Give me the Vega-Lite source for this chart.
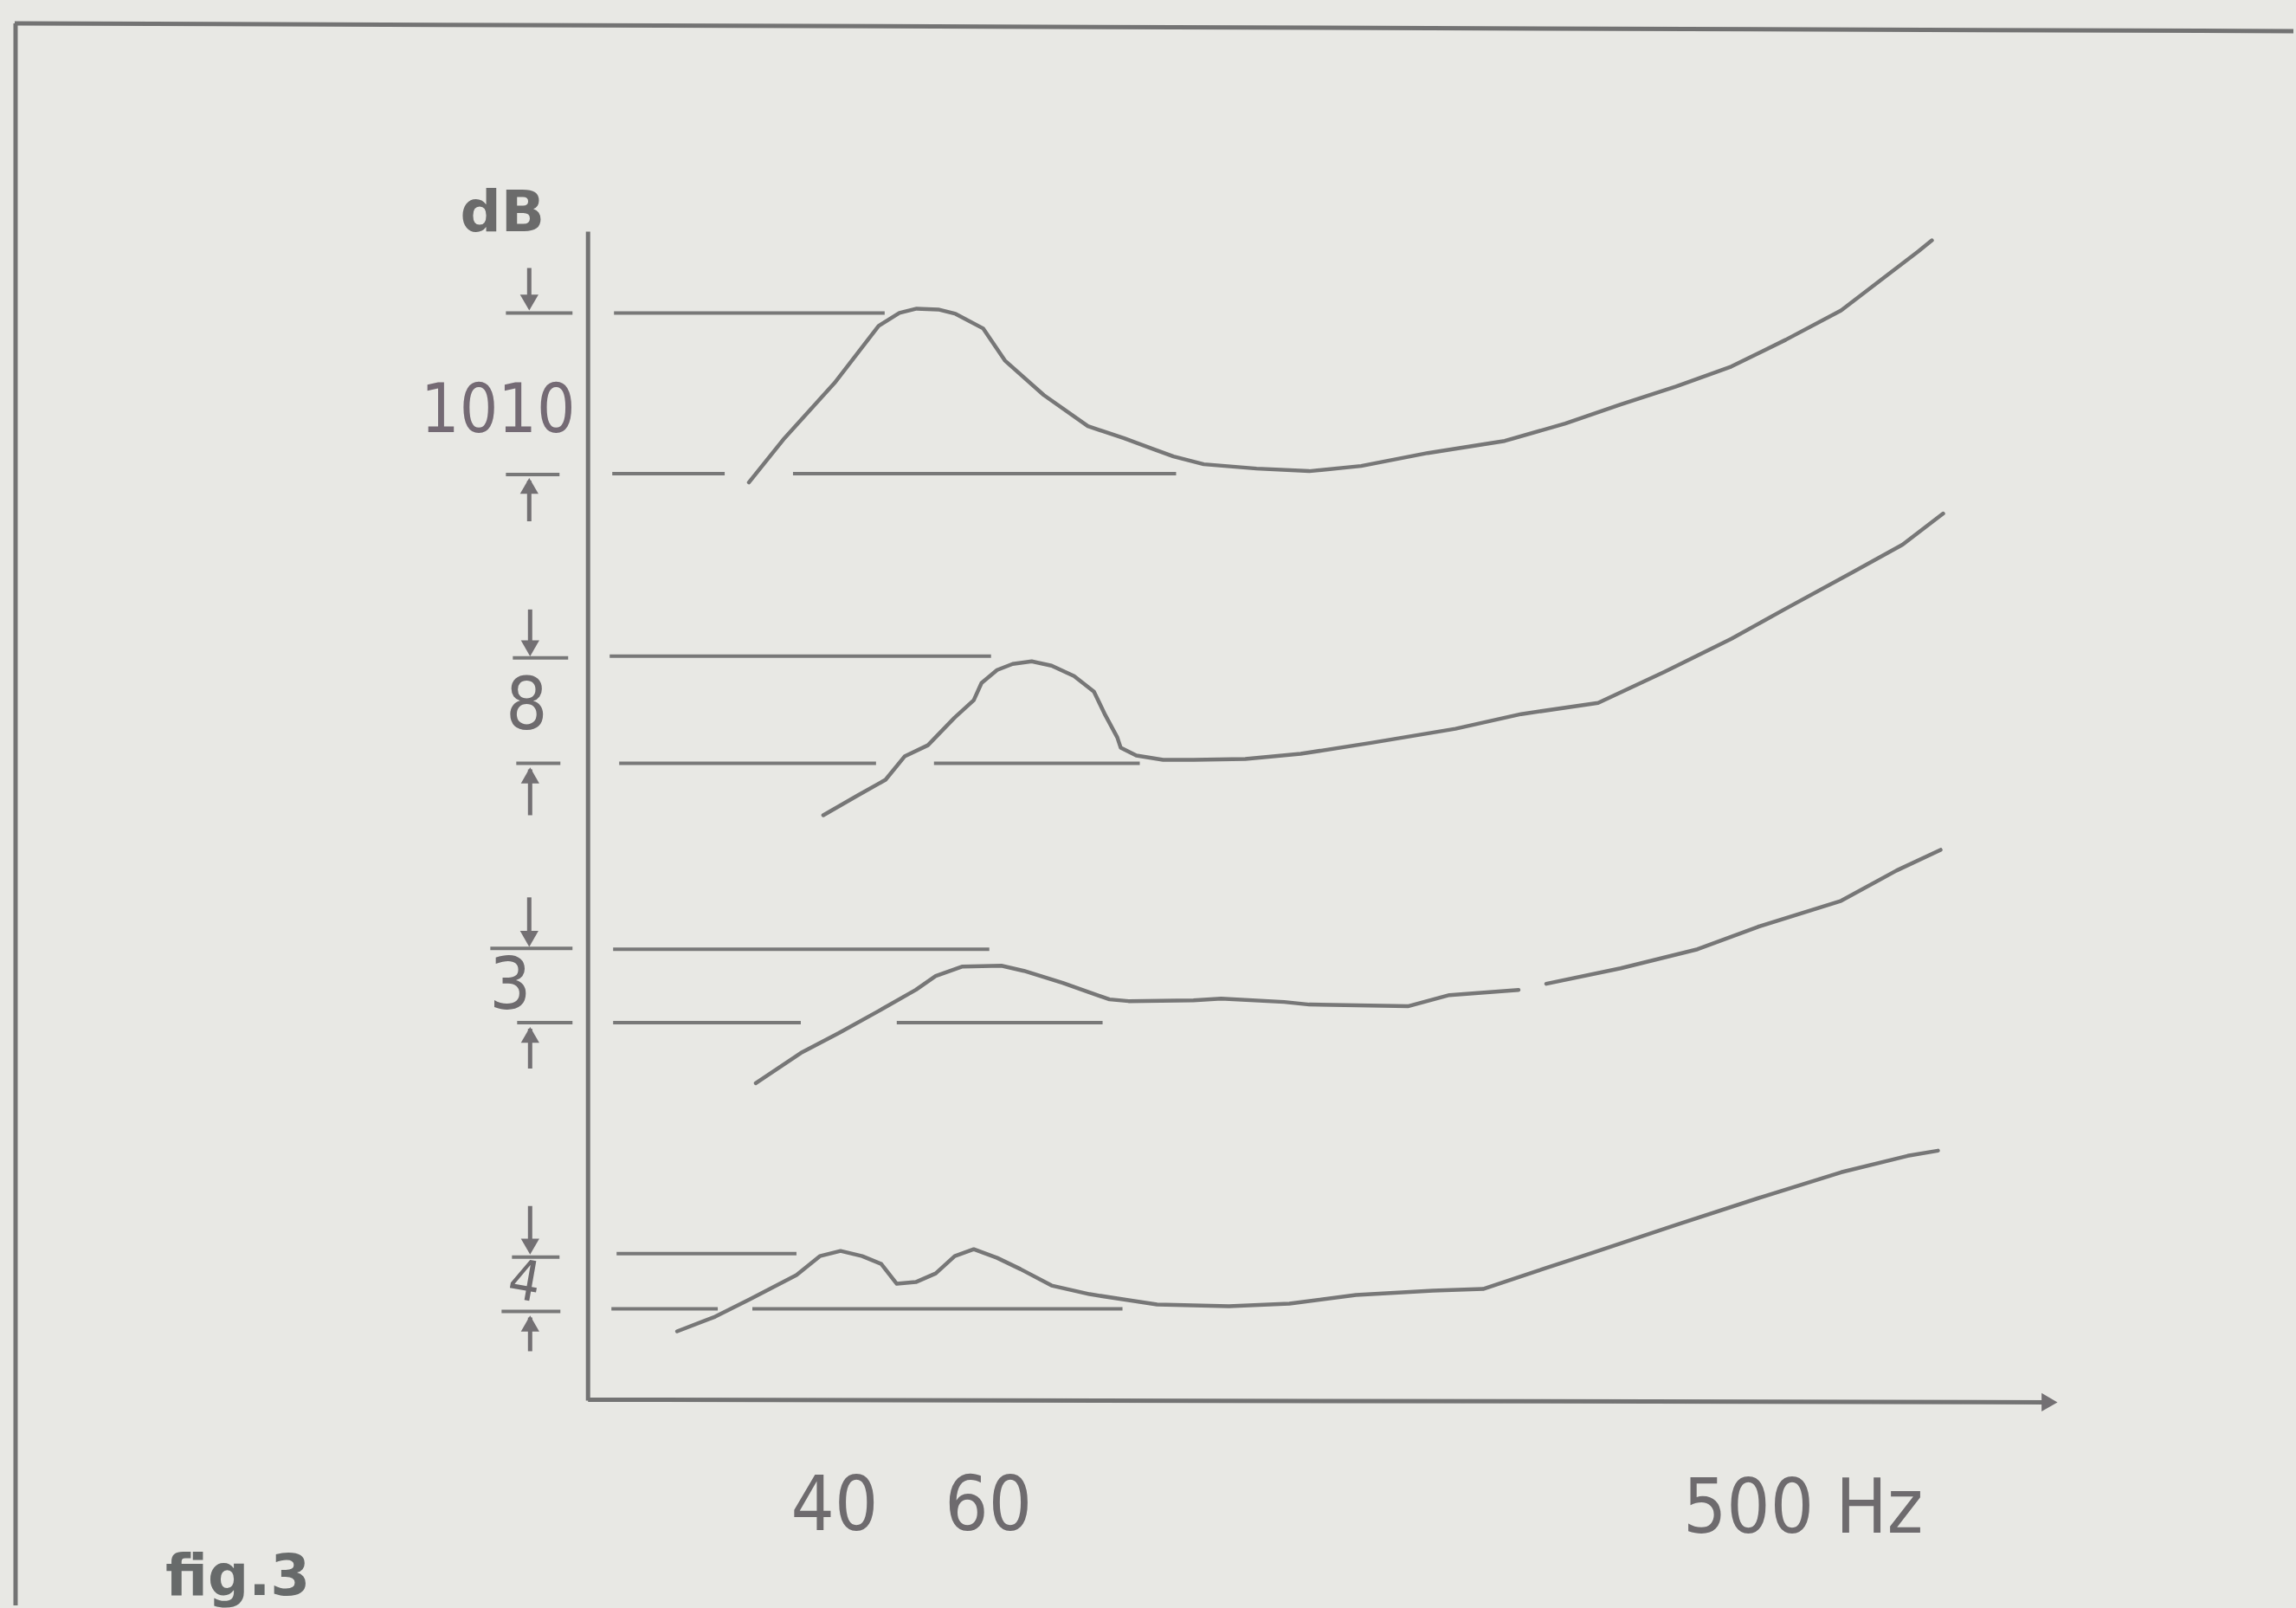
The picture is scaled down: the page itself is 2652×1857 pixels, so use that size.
{
  "$schema": "https://vega.github.io/schema/vega-lite/v6.json",
  "width": 2652,
  "height": 1857,
  "autosize": {"type": "fit", "contains": "padding"},
  "padding": 0,
  "background": "#e8e8e4",
  "config": {"view": {"stroke": null}},
  "datasets": {
    "frame": [
      {"x": 18, "y": 27, "x2": 18, "y2": 1857},
      {"x": 17, "y": 27, "x2": 2652, "y2": 36},
      {"x": 680, "y": 268, "x2": 680, "y2": 1620},
      {"x": 680, "y": 1619, "x2": 2368, "y2": 1622}
    ],
    "refs": [
      {"x": 710, "x2": 1023, "y": 362},
      {"x": 708, "x2": 838, "y": 548},
      {"x": 917, "x2": 1360, "y": 548},
      {"x": 705, "x2": 1146, "y": 759},
      {"x": 716, "x2": 1013, "y": 883},
      {"x": 1080, "x2": 1318, "y": 883},
      {"x": 709, "x2": 1144, "y": 1098},
      {"x": 709, "x2": 926, "y": 1183},
      {"x": 1037, "x2": 1275, "y": 1183},
      {"x": 713, "x2": 921, "y": 1450},
      {"x": 707, "x2": 830, "y": 1514},
      {"x": 870, "x2": 1298, "y": 1514},
      {"x": 585, "x2": 662, "y": 362},
      {"x": 585, "x2": 647, "y": 549},
      {"x": 593, "x2": 657, "y": 761},
      {"x": 597, "x2": 648, "y": 883},
      {"x": 567, "x2": 662, "y": 1097},
      {"x": 598, "x2": 662, "y": 1183},
      {"x": 592, "x2": 647, "y": 1454},
      {"x": 580, "x2": 648, "y": 1517}
    ],
    "shafts": [
      {"x": 612, "y": 310, "y2": 352},
      {"x": 612, "y": 556, "y2": 603},
      {"x": 613, "y": 705, "y2": 752},
      {"x": 613, "y": 890, "y2": 943},
      {"x": 612, "y": 1038, "y2": 1088},
      {"x": 613, "y": 1190, "y2": 1236},
      {"x": 613, "y": 1395, "y2": 1444},
      {"x": 613, "y": 1524, "y2": 1563}
    ],
    "heads": [
      {"dir": "down", "x": 612, "y": 350},
      {"dir": "up", "x": 612, "y": 562},
      {"dir": "down", "x": 613, "y": 750},
      {"dir": "up", "x": 613, "y": 897},
      {"dir": "down", "x": 612, "y": 1086},
      {"dir": "up", "x": 613, "y": 1197},
      {"dir": "down", "x": 613, "y": 1442},
      {"dir": "up", "x": 613, "y": 1531},
      {"dir": "right", "x": 2370, "y": 1622}
    ],
    "curves": [
      {"s": "c1", "x": 866, "y": 558}, {"s": "c1", "x": 907, "y": 507}, {"s": "c1", "x": 965, "y": 443},
      {"s": "c1", "x": 1016, "y": 377}, {"s": "c1", "x": 1040, "y": 362}, {"s": "c1", "x": 1060, "y": 357},
      {"s": "c1", "x": 1085, "y": 358}, {"s": "c1", "x": 1105, "y": 363}, {"s": "c1", "x": 1137, "y": 380},
      {"s": "c1", "x": 1162, "y": 417}, {"s": "c1", "x": 1207, "y": 457}, {"s": "c1", "x": 1258, "y": 493},
      {"s": "c1", "x": 1300, "y": 507}, {"s": "c1", "x": 1335, "y": 520}, {"s": "c1", "x": 1357, "y": 528},
      {"s": "c1", "x": 1392, "y": 537}, {"s": "c1", "x": 1453, "y": 542}, {"s": "c1", "x": 1514, "y": 545},
      {"s": "c1", "x": 1574, "y": 539}, {"s": "c1", "x": 1651, "y": 524}, {"s": "c1", "x": 1740, "y": 510},
      {"s": "c1", "x": 1810, "y": 490}, {"s": "c1", "x": 1874, "y": 468}, {"s": "c1", "x": 1938, "y": 447},
      {"s": "c1", "x": 2002, "y": 424}, {"s": "c1", "x": 2065, "y": 393}, {"s": "c1", "x": 2129, "y": 359},
      {"s": "c1", "x": 2180, "y": 320}, {"s": "c1", "x": 2218, "y": 291}, {"s": "c1", "x": 2234, "y": 278},

      {"s": "c2", "x": 952, "y": 943}, {"s": "c2", "x": 992, "y": 920}, {"s": "c2", "x": 1024, "y": 902},
      {"s": "c2", "x": 1046, "y": 875}, {"s": "c2", "x": 1073, "y": 862}, {"s": "c2", "x": 1104, "y": 830},
      {"s": "c2", "x": 1126, "y": 810}, {"s": "c2", "x": 1135, "y": 790}, {"s": "c2", "x": 1153, "y": 775},
      {"s": "c2", "x": 1171, "y": 768}, {"s": "c2", "x": 1193, "y": 765}, {"s": "c2", "x": 1216, "y": 770},
      {"s": "c2", "x": 1242, "y": 782}, {"s": "c2", "x": 1265, "y": 800}, {"s": "c2", "x": 1278, "y": 827},
      {"s": "c2", "x": 1292, "y": 853}, {"s": "c2", "x": 1296, "y": 865}, {"s": "c2", "x": 1314, "y": 874},
      {"s": "c2", "x": 1345, "y": 879}, {"s": "c2", "x": 1380, "y": 879}, {"s": "c2", "x": 1440, "y": 878},
      {"s": "c2", "x": 1504, "y": 872}, {"s": "c2", "x": 1587, "y": 859}, {"s": "c2", "x": 1683, "y": 843},
      {"s": "c2", "x": 1759, "y": 826}, {"s": "c2", "x": 1848, "y": 813}, {"s": "c2", "x": 1925, "y": 777},
      {"s": "c2", "x": 2002, "y": 739}, {"s": "c2", "x": 2065, "y": 704}, {"s": "c2", "x": 2142, "y": 662},
      {"s": "c2", "x": 2200, "y": 630}, {"s": "c2", "x": 2247, "y": 594},

      {"s": "c3a", "x": 874, "y": 1253}, {"s": "c3a", "x": 926, "y": 1218}, {"s": "c3a", "x": 970, "y": 1195},
      {"s": "c3a", "x": 1015, "y": 1170}, {"s": "c3a", "x": 1059, "y": 1145}, {"s": "c3a", "x": 1082, "y": 1129},
      {"s": "c3a", "x": 1113, "y": 1118}, {"s": "c3a", "x": 1158, "y": 1117}, {"s": "c3a", "x": 1184, "y": 1123},
      {"s": "c3a", "x": 1229, "y": 1137}, {"s": "c3a", "x": 1260, "y": 1148}, {"s": "c3a", "x": 1283, "y": 1156},
      {"s": "c3a", "x": 1305, "y": 1158}, {"s": "c3a", "x": 1380, "y": 1157}, {"s": "c3a", "x": 1412, "y": 1155},
      {"s": "c3a", "x": 1485, "y": 1159}, {"s": "c3a", "x": 1514, "y": 1162}, {"s": "c3a", "x": 1628, "y": 1164},
      {"s": "c3a", "x": 1676, "y": 1151}, {"s": "c3a", "x": 1756, "y": 1145},
      {"s": "c3b", "x": 1788, "y": 1138}, {"s": "c3b", "x": 1874, "y": 1120}, {"s": "c3b", "x": 1963, "y": 1098},
      {"s": "c3b", "x": 2033, "y": 1072}, {"s": "c3b", "x": 2129, "y": 1042}, {"s": "c3b", "x": 2193, "y": 1007},
      {"s": "c3b", "x": 2244, "y": 983},

      {"s": "c4", "x": 783, "y": 1540}, {"s": "c4", "x": 827, "y": 1523}, {"s": "c4", "x": 867, "y": 1503},
      {"s": "c4", "x": 921, "y": 1475}, {"s": "c4", "x": 948, "y": 1453}, {"s": "c4", "x": 972, "y": 1447},
      {"s": "c4", "x": 997, "y": 1453}, {"s": "c4", "x": 1019, "y": 1462}, {"s": "c4", "x": 1037, "y": 1485},
      {"s": "c4", "x": 1059, "y": 1483}, {"s": "c4", "x": 1082, "y": 1473}, {"s": "c4", "x": 1104, "y": 1453},
      {"s": "c4", "x": 1126, "y": 1445}, {"s": "c4", "x": 1153, "y": 1455}, {"s": "c4", "x": 1180, "y": 1468},
      {"s": "c4", "x": 1216, "y": 1487}, {"s": "c4", "x": 1260, "y": 1497}, {"s": "c4", "x": 1305, "y": 1504},
      {"s": "c4", "x": 1338, "y": 1509}, {"s": "c4", "x": 1421, "y": 1511}, {"s": "c4", "x": 1491, "y": 1508},
      {"s": "c4", "x": 1568, "y": 1498}, {"s": "c4", "x": 1657, "y": 1493}, {"s": "c4", "x": 1715, "y": 1491},
      {"s": "c4", "x": 1778, "y": 1470}, {"s": "c4", "x": 1842, "y": 1449}, {"s": "c4", "x": 1938, "y": 1417},
      {"s": "c4", "x": 2033, "y": 1386}, {"s": "c4", "x": 2129, "y": 1356}, {"s": "c4", "x": 2206, "y": 1337},
      {"s": "c4", "x": 2241, "y": 1331}
    ],
    "labels": [
      {"g": "n88", "t": "40", "x": 965, "y": 1770},
      {"g": "n88", "t": "60", "x": 1143, "y": 1770},
      {"g": "n88", "t": "500 Hz", "x": 2085, "y": 1773},
      {"g": "n90", "t": "1010", "x": 576, "y": 500},
      {"g": "n84", "t": "8", "x": 609, "y": 843},
      {"g": "n84", "t": "3", "x": 590, "y": 1167},
      {"g": "n64", "t": "4", "x": 603, "y": 1503},
      {"g": "b68", "t": "dB", "x": 581, "y": 267},
      {"g": "b66", "t": "fig.3", "x": 275, "y": 1845}
    ]
  },
  "layer": [
    {
      "data": {"name": "frame"},
      "mark": {"type": "rule", "color": "#737373", "strokeWidth": 5},
      "encoding": {
        "x": {"field": "x", "type": "quantitative", "scale": {"domain": [0, 2652], "nice": false, "zero": false}, "axis": null},
        "y": {"field": "y", "type": "quantitative", "scale": {"domain": [0, 1857], "nice": false, "zero": false, "reverse": true}, "axis": null},
        "x2": {"field": "x2"},
        "y2": {"field": "y2"}
      }
    },
    {
      "data": {"name": "refs"},
      "mark": {"type": "rule", "color": "#787878", "strokeWidth": 4},
      "encoding": {
        "x": {"field": "x", "type": "quantitative", "scale": {"domain": [0, 2652], "nice": false, "zero": false}, "axis": null},
        "x2": {"field": "x2"},
        "y": {"field": "y", "type": "quantitative", "scale": {"domain": [0, 1857], "nice": false, "zero": false, "reverse": true}, "axis": null}
      }
    },
    {
      "data": {"name": "shafts"},
      "mark": {"type": "rule", "color": "#737073", "strokeWidth": 5},
      "encoding": {
        "x": {"field": "x", "type": "quantitative", "scale": {"domain": [0, 2652], "nice": false, "zero": false}, "axis": null},
        "y": {"field": "y", "type": "quantitative", "scale": {"domain": [0, 1857], "nice": false, "zero": false, "reverse": true}, "axis": null},
        "y2": {"field": "y2"}
      }
    },
    {
      "data": {"name": "heads"},
      "mark": {"type": "point", "filled": true, "color": "#737073", "size": 450, "opacity": 1},
      "encoding": {
        "x": {"field": "x", "type": "quantitative", "scale": {"domain": [0, 2652], "nice": false, "zero": false}, "axis": null},
        "y": {"field": "y", "type": "quantitative", "scale": {"domain": [0, 1857], "nice": false, "zero": false, "reverse": true}, "axis": null},
        "shape": {"field": "dir", "type": "nominal", "scale": {"domain": ["down", "up", "right"], "range": ["triangle-down", "triangle-up", "triangle-right"]}, "legend": null}
      }
    },
    {
      "data": {"name": "curves"},
      "mark": {"type": "line", "color": "#777777", "strokeWidth": 4.5, "strokeJoin": "round", "strokeCap": "round"},
      "encoding": {
        "x": {"field": "x", "type": "quantitative", "scale": {"domain": [0, 2652], "nice": false, "zero": false}, "axis": null},
        "y": {"field": "y", "type": "quantitative", "scale": {"domain": [0, 1857], "nice": false, "zero": false, "reverse": true}, "axis": null},
        "detail": {"field": "s", "type": "nominal"}
      }
    },
    {
      "data": {"name": "labels"},
      "transform": [{"filter": "datum.g === 'n88'"}],
      "mark": {"type": "text", "font": "DejaVu Sans Condensed, sans-serif", "fontSize": 88, "color": "#6e6b6e", "align": "center", "baseline": "alphabetic"},
      "encoding": {
        "x": {"field": "x", "type": "quantitative", "scale": {"domain": [0, 2652], "nice": false, "zero": false}, "axis": null},
        "y": {"field": "y", "type": "quantitative", "scale": {"domain": [0, 1857], "nice": false, "zero": false, "reverse": true}, "axis": null},
        "text": {"field": "t"}
      }
    },
    {
      "data": {"name": "labels"},
      "transform": [{"filter": "datum.g === 'n90'"}],
      "mark": {"type": "text", "font": "DejaVu Sans Condensed, sans-serif", "fontSize": 78, "color": "#746a74", "align": "center", "baseline": "alphabetic"},
      "encoding": {
        "x": {"field": "x", "type": "quantitative", "scale": {"domain": [0, 2652], "nice": false, "zero": false}, "axis": null},
        "y": {"field": "y", "type": "quantitative", "scale": {"domain": [0, 1857], "nice": false, "zero": false, "reverse": true}, "axis": null},
        "text": {"field": "t"}
      }
    },
    {
      "data": {"name": "labels"},
      "transform": [{"filter": "datum.g === 'n84'"}],
      "mark": {"type": "text", "font": "DejaVu Sans Condensed, sans-serif", "fontSize": 84, "color": "#6e6b6e", "align": "center", "baseline": "alphabetic"},
      "encoding": {
        "x": {"field": "x", "type": "quantitative", "scale": {"domain": [0, 2652], "nice": false, "zero": false}, "axis": null},
        "y": {"field": "y", "type": "quantitative", "scale": {"domain": [0, 1857], "nice": false, "zero": false, "reverse": true}, "axis": null},
        "text": {"field": "t"}
      }
    },
    {
      "data": {"name": "labels"},
      "transform": [{"filter": "datum.g === 'n64'"}],
      "mark": {"type": "text", "font": "DejaVu Sans Condensed, sans-serif", "fontSize": 64, "color": "#6e6b6e", "align": "center", "baseline": "alphabetic", "angle": 10},
      "encoding": {
        "x": {"field": "x", "type": "quantitative", "scale": {"domain": [0, 2652], "nice": false, "zero": false}, "axis": null},
        "y": {"field": "y", "type": "quantitative", "scale": {"domain": [0, 1857], "nice": false, "zero": false, "reverse": true}, "axis": null},
        "text": {"field": "t"}
      }
    },
    {
      "data": {"name": "labels"},
      "transform": [{"filter": "datum.g === 'b68'"}],
      "mark": {"type": "text", "font": "DejaVu Sans", "fontWeight": "bold", "fontSize": 66, "color": "#6b6b6b", "align": "center", "baseline": "alphabetic"},
      "encoding": {
        "x": {"field": "x", "type": "quantitative", "scale": {"domain": [0, 2652], "nice": false, "zero": false}, "axis": null},
        "y": {"field": "y", "type": "quantitative", "scale": {"domain": [0, 1857], "nice": false, "zero": false, "reverse": true}, "axis": null},
        "text": {"field": "t"}
      }
    },
    {
      "data": {"name": "labels"},
      "transform": [{"filter": "datum.g === 'b66'"}],
      "mark": {"type": "text", "font": "DejaVu Sans", "fontWeight": "bold", "fontSize": 66, "color": "#676a6a", "align": "center", "baseline": "alphabetic"},
      "encoding": {
        "x": {"field": "x", "type": "quantitative", "scale": {"domain": [0, 2652], "nice": false, "zero": false}, "axis": null},
        "y": {"field": "y", "type": "quantitative", "scale": {"domain": [0, 1857], "nice": false, "zero": false, "reverse": true}, "axis": null},
        "text": {"field": "t"}
      }
    }
  ]
}
